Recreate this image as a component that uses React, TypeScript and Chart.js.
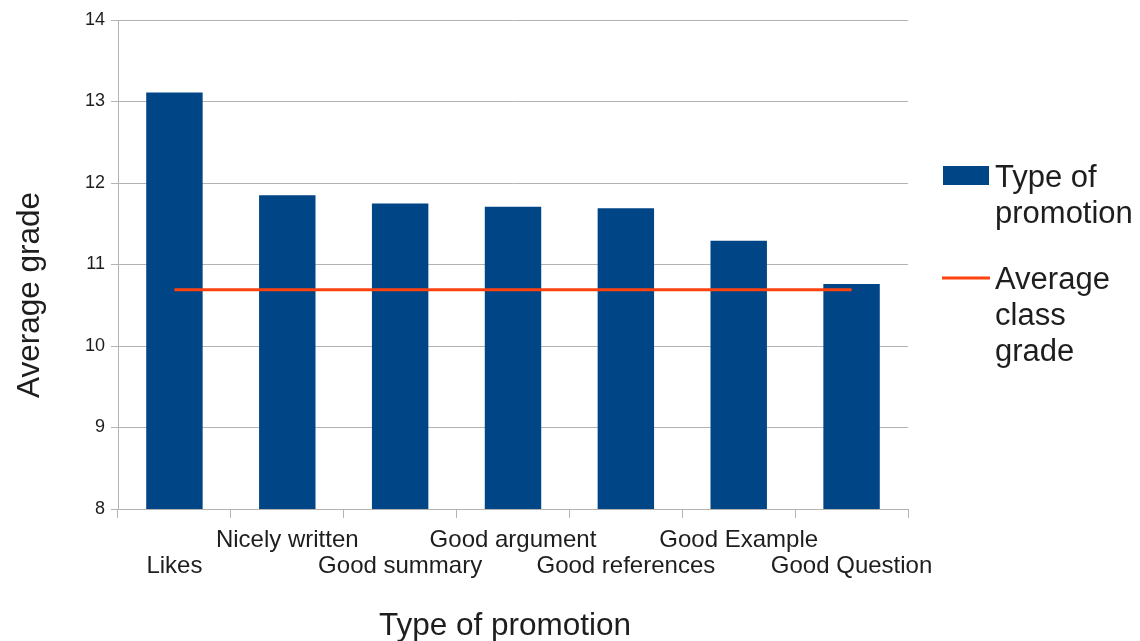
import React, { useEffect, useRef } from "react";
import { Chart, registerables } from "chart.js";

Chart.register(...registerables);

const categories = [
  "Likes",
  "Nicely written",
  "Good summary",
  "Good argument",
  "Good references",
  "Good Example",
  "Good Question",
];
const promotionValues = [13.11, 11.85, 11.75, 11.71, 11.69, 11.29, 10.76];
const classAverage = [10.69, 10.69, 10.69, 10.69, 10.69, 10.69, 10.69];
const barLabel = "Type of promotion";
const lineLabel = "Average class grade";
const yTitle = "Average grade";
const xTitle = "Type of promotion";
const legendLines: Record<string, string[]> = {
  [barLabel]: ["Type of", "promotion"],
  [lineLabel]: ["Average", "class", "grade"],
};

const FONT = "'Liberation Sans', Arial, sans-serif";
const TEXT = "#1e1e1e";
const GRID = "#b3b3b3";
const BLUE = "#004586";
const ORANGE = "#ff420e";

const decorPlugin = {
  id: "decor",
  afterDraw(chart: any) {
    const ctx = chart.ctx;
    const area = chart.chartArea;
    ctx.save();
    ctx.fillStyle = TEXT;
    // axis titles
    ctx.font = `31.5px ${FONT}`;
    ctx.textAlign = "center";
    ctx.textBaseline = "alphabetic";
    ctx.fillText(xTitle, (area.left + area.right) / 2 - 8, 635);
    ctx.save();
    ctx.translate(39, 295);
    ctx.rotate(-Math.PI / 2);
    ctx.fillText(yTitle, 0, 0);
    ctx.restore();

    // legend
    const datasets = chart.data.datasets;
    const bar = datasets.find((d: any) => d.type !== "line");
    const line = datasets.find((d: any) => d.type === "line");
    ctx.textAlign = "left";
    ctx.font = `31px ${FONT}`;
    // bar item
    ctx.fillStyle = bar.backgroundColor;
    ctx.fillRect(943, 166, 46, 19);
    ctx.fillStyle = TEXT;
    legendLines[bar.label].forEach((t, i) => ctx.fillText(t, 995, 187 + i * 36));
    // line item
    ctx.strokeStyle = line.borderColor;
    ctx.lineWidth = 3;
    ctx.beginPath();
    ctx.moveTo(942, 278);
    ctx.lineTo(990, 278);
    ctx.stroke();
    legendLines[line.label].forEach((t, i) => ctx.fillText(t, 995, 289 + i * 36));
    ctx.restore();
  },
};

export default function App() {
  const canvasRef = useRef<HTMLCanvasElement | null>(null);

  useEffect(() => {
    if (!canvasRef.current) return;
    const last = categories.length;
    const chart = new Chart(canvasRef.current, {
      type: "bar",
      data: {
        labels: categories,
        datasets: [
          {
            type: "line",
            label: lineLabel,
            data: classAverage,
            borderColor: ORANGE,
            backgroundColor: ORANGE,
            borderWidth: 3,
            pointRadius: 0,
            tension: 0,
            order: 0,
          } as any,
          {
            type: "bar",
            label: barLabel,
            data: promotionValues,
            backgroundColor: BLUE,
            borderWidth: 0,
            barPercentage: 0.5,
            categoryPercentage: 1,
            order: 1,
          },
        ],
      },
      options: {
        animation: false,
        responsive: false,
        layout: { padding: { left: 0, top: 20, right: 232, bottom: 0 } },
        plugins: {
          legend: { display: false },
          tooltip: { enabled: false },
        },
        scales: {
          x: {
            offset: true,
            afterFit: (scale: any) => {
              scale.height = 132;
            },
            grid: {
              offset: true,
              drawOnChartArea: true,
              color: (c: any) => (c.index === last ? GRID : "transparent"),
              tickColor: GRID,
              tickLength: 9,
              lineWidth: 1,
            },
            border: { display: true, color: GRID },
            ticks: {
              autoSkip: false,
              maxRotation: 0,
              minRotation: 0,
              color: TEXT,
              padding: 9,
              font: { family: FONT, size: 24, lineHeight: 1.1 },
              callback: (_v: any, i: number) =>
                i % 2 === 0 ? ["", categories[i]] : [categories[i], ""],
            },
          },
          y: {
            min: 8,
            max: 14,
            afterFit: (scale: any) => {
              scale.width = 118;
            },
            grid: { color: GRID, tickColor: GRID, tickLength: 7 },
            border: { display: true, color: GRID },
            ticks: {
              stepSize: 1,
              color: TEXT,
              padding: 6,
              font: { family: FONT, size: 18 },
            },
          },
        },
      },
      plugins: [decorPlugin],
    });
    return () => chart.destroy();
  }, []);

  return (
    <div style={{ position: "absolute", left: 0, top: 0, width: 1140, height: 641, background: "#fff" }}>
      <canvas ref={canvasRef} width={1140} height={641} />
    </div>
  );
}
